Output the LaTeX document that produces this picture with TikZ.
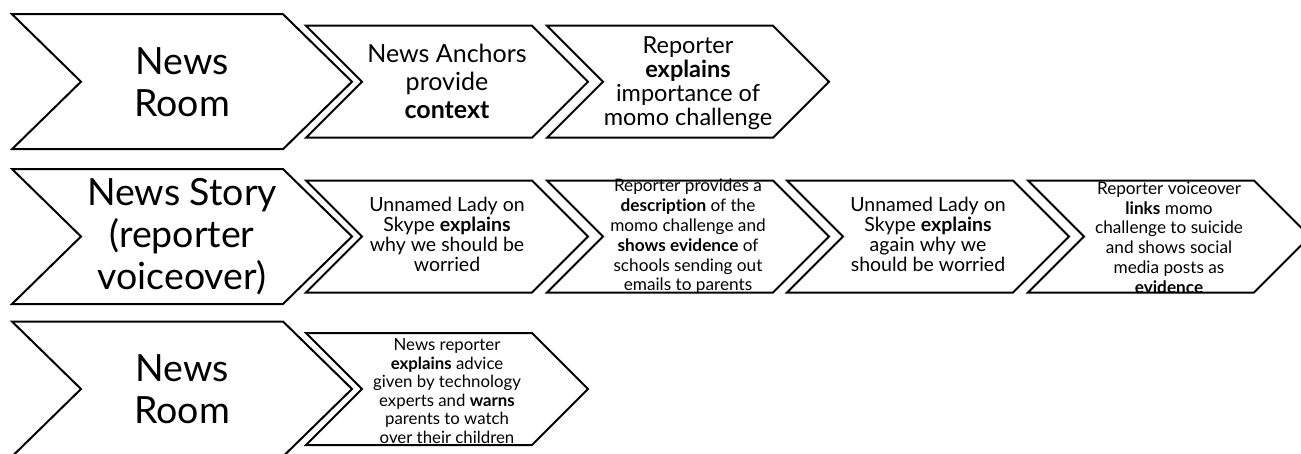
\documentclass[tikz,border=0pt]{standalone}
\usepackage{fontspec}
\setmainfont{Lato}[Ligatures={NoCommon}]
\begin{document}
\begin{tikzpicture}[x=1pt,y=-1pt,
  chev/.style={draw=black, fill=white, line width=2pt, line join=miter},
  txt/.style={align=center, inner sep=0pt, text=black},
  bigtxt/.style={txt, font=\fontsize{37.5}{42}\selectfont},
  midtxt/.style={txt, font=\fontsize{25}{28}\selectfont},
  medtxt/.style={txt, font=\fontsize{23.5}{24}\selectfont},
  smalltxt/.style={txt, font=\fontsize{19.5}{20}\selectfont},
  tinytxt/.style={txt, font=\fontsize{17.2}{19.8}\selectfont},
  lowtxt/.style={txt, font=\fontsize{16.8}{18.6}\selectfont}]
\useasboundingbox (0,0) rectangle (1301,453);
% chevron outline: left x, centre y, top width, half height, point depth
\newcommand\chevpath[5]{%
  \path[chev] ({#1},{#2-#4}) -- ({#1+#3},{#2-#4}) -- ({#1+#3+#5},{#2})
    -- ({#1+#3},{#2+#4}) -- ({#1},{#2+#4}) -- ({#1+#5},{#2}) -- cycle;}

% row 1
\chevpath{12}{81.7}{271}{67.5}{69}
\chevpath{306}{81.7}{226}{56}{56}
\chevpath{547}{81.7}{226}{56}{56}
% row 2
\chevpath{12}{236.5}{271}{67.5}{69}
\chevpath{306}{236.5}{226}{56}{56}
\chevpath{547}{236.5}{226}{56}{56}
\chevpath{787}{236.5}{226}{56}{56}
\chevpath{1028}{236.5}{226}{56}{56}
% row 3
\chevpath{12}{389}{271}{67.5}{69}
\chevpath{306}{389}{226}{56}{56}

% row 1 texts
\node[bigtxt] (room1) at (182,81.7) {News\\Room};
\node[midtxt] (anchors) at (447,81.7) {News Anchors\\provide\\\textbf{context}};
\node[medtxt] (importance) at (688,83.5) {Reporter\\\textbf{explains}\\importance of\\momo challenge};
% row 2 texts
\node[bigtxt] (story) at (182,236.5) {News Story\\(reporter\\voiceover)};
\node[smalltxt] (lady1) at (447,234.5) {Unnamed Lady on\\Skype \textbf{explains}\\why we should be\\worried};
\node[tinytxt] (describe) at (688,236.5) {Reporter provides a\\\textbf{description} of the\\momo challenge and\\\textbf{shows evidence} of\\schools sending out\\emails to parents};
\node[smalltxt] (lady2) at (928,234.5) {Unnamed Lady on\\Skype \textbf{explains}\\again why we\\should be worried};
\node[tinytxt] (links) at (1169,237.5) {Reporter voiceover\\\textbf{links} momo\\challenge to suicide\\and shows social\\media posts as\\\textbf{evidence}};
% row 3 texts
\node[bigtxt] (room2) at (182,389) {News\\Room};
\node[lowtxt] (advice) at (447,391) {News reporter\\\textbf{explains} advice\\given by technology\\experts and \textbf{warns}\\parents to watch\\over their children};
\end{tikzpicture}
\end{document}
